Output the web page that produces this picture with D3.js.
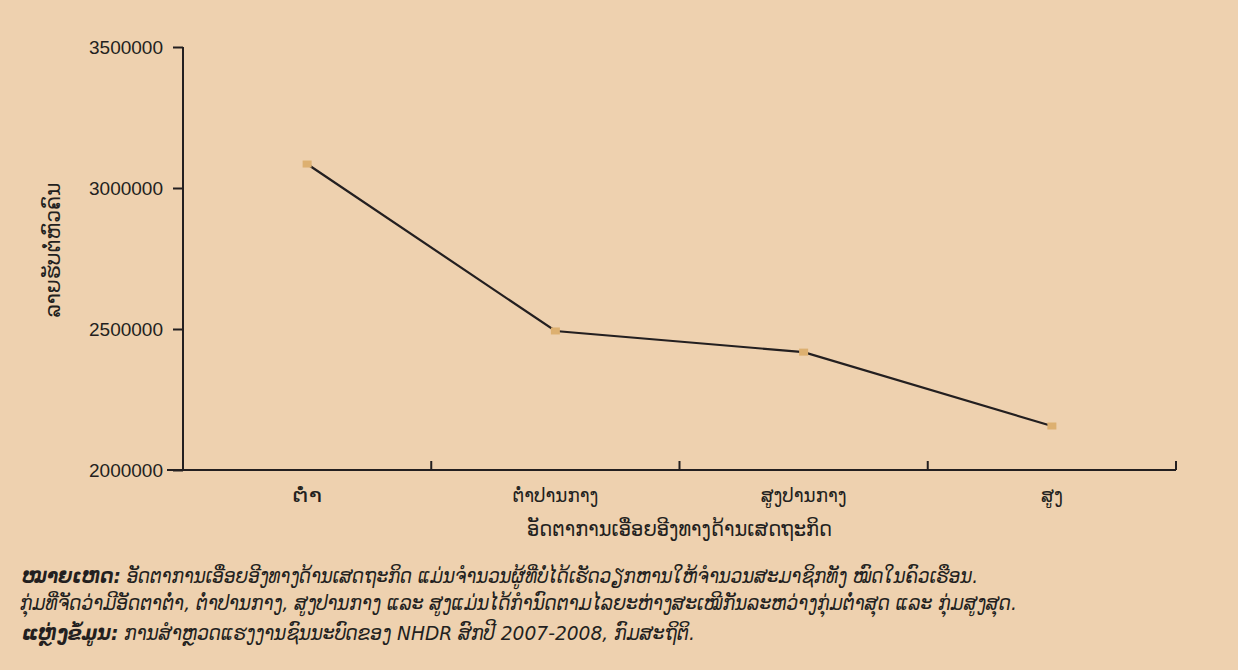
<!DOCTYPE html>
<html>
<head>
<meta charset="utf-8">
<script src="https://cdn.jsdelivr.net/npm/d3@7/dist/d3.min.js"></script>
<style>
  html, body { margin: 0; padding: 0; background: #eed1af; }
  svg { display: block; }
</style>
</head>
<body>
<svg id="chart" width="1238" height="670"></svg>
<script>
const categories = ["ຕ່ຳ", "ຕ່ຳປານກາງ", "ສູງປານກາງ", "ສູງ"];
const values = [3085000, 2493000, 2418000, 2156000];
const yTicks = [2000000, 2500000, 3000000, 3500000];
const yTitle = "ລາຍຮັບຕໍ່ຫົວຄົນ";
const xTitle = "ອັດຕາການເອື່ອຍອີງທາງດ້ານເສດຖະກິດ";
const notes = [
  { bold: "ໝາຍເຫດ:", text: " ອັດຕາການເອື່ອຍອີງທາງດ້ານເສດຖະກິດ ແມ່ນຈຳນວນຜູ້ທີ່ບໍ່ໄດ້ເຮັດວຽກຫານໃຫ້ຈຳນວນສະມາຊິກທັງ ໝົດໃນຄົວເຮືອນ." },
  { bold: "", text: "ກຸ່ມທີ່ຈັດວ່າມີອັດຕາຕ່ຳ, ຕ່ຳປານກາງ, ສູງປານກາງ ແລະ ສູງແມ່ນໄດ້ກຳນົດຕາມໄລຍະຫ່າງສະເໝີກັນລະຫວ່າງກຸ່ມຕ່ຳສຸດ ແລະ ກຸ່ມສູງສຸດ." },
  { bold: "ແຫຼ່ງຂໍ້ມູນ:", text: " ການສຳຫຼວດແຮງງານຊົນນະບົດຂອງ NHDR ສົກປີ 2007-2008, ກົມສະຖິຕິ." }
];

(function () {
const svg = d3.select("#chart");
const mLeft = 183, mRight = 1176, mTop = 47, mBottom = 470;
const ink = "#231f20";
const font = "'Liberation Sans', Arial, sans-serif";
const laoFont = "'DejaVu Sans', 'Noto Sans', sans-serif";

const x = d3.scaleBand().domain(categories).range([mLeft, mRight]).padding(0);
const y = d3.scaleLinear().domain([2000000, 3500000]).range([mBottom, mTop]);

// Y axis
const yAxis = svg.append("g").attr("transform", `translate(${mLeft},0)`)
  .call(d3.axisLeft(y).tickValues(yTicks).tickFormat(d3.format("d")).tickSize(10).tickPadding(10));
yAxis.select(".domain").attr("stroke", ink).attr("stroke-width", 2).attr("d", `M0,${mTop}V${mBottom}`);
yAxis.selectAll(".tick line").attr("stroke", ink).attr("stroke-width", 2);
yAxis.selectAll(".tick text").attr("fill", ink).style("font-family", font).style("font-size", "19px");

// X axis
const xAxis = svg.append("g").attr("transform", `translate(0,${mBottom})`)
  .call(d3.axisBottom(x).tickSize(0).tickPadding(0));
xAxis.select(".domain").attr("stroke", ink).attr("stroke-width", 2).attr("d", `M${mLeft - 16},0H${mRight}`);
const tickW = [30, 86, 86, 22];
xAxis.selectAll(".tick text").attr("fill", ink)
  .attr("y", 32).attr("dy", null)
  .attr("textLength", (d, i) => tickW[i]).attr("lengthAdjust", "spacingAndGlyphs")
  .style("font-family", laoFont).style("font-size", "20px");
const bounds = categories.map(c => x(c) + x.bandwidth());
xAxis.selectAll(".bnd").data(bounds).enter().append("line")
  .attr("x1", d => d).attr("x2", d => d).attr("y1", 0).attr("y2", -9)
  .attr("stroke", ink).attr("stroke-width", 2);

// Line
const pts = categories.map((c, i) => [x(c) + x.bandwidth() / 2, y(values[i])]);
svg.append("path").datum(pts)
  .attr("d", d3.line())
  .attr("fill", "none").attr("stroke", ink).attr("stroke-width", 2.2);
svg.selectAll(".mk").data(pts).enter().append("rect")
  .attr("x", d => d[0] - 4.5).attr("y", d => d[1] - 3.5)
  .attr("width", 9).attr("height", 7).attr("fill", "#ddb070");

// Titles
svg.append("text").attr("transform", `translate(60,250) rotate(-90)`)
  .attr("text-anchor", "middle")
  .attr("textLength", 135).attr("lengthAdjust", "spacingAndGlyphs")
  .style("font-family", laoFont).style("font-size", "21px").attr("fill", ink).text(yTitle);
svg.append("text").attr("x", (mLeft + mRight) / 2).attr("y", 536)
  .attr("text-anchor", "middle")
  .attr("textLength", 305).attr("lengthAdjust", "spacingAndGlyphs")
  .style("font-family", laoFont).style("font-size", "21px").attr("fill", ink).text(xTitle);

// Notes
const ny = [583, 610, 640];
const nx = [22, 20, 22];
const nw = [956, 997, 673];
notes.forEach((n, i) => {
  const t = svg.append("text").attr("x", nx[i]).attr("y", ny[i])
    .attr("textLength", nw[i]).attr("lengthAdjust", "spacingAndGlyphs")
    .style("font-family", laoFont).style("font-size", "20px").style("font-style", "italic").attr("fill", ink);
  if (n.bold) t.append("tspan").style("font-weight", "bold").text(n.bold);
  t.append("tspan").text(n.text);
});
})();
</script>
</body>
</html>
